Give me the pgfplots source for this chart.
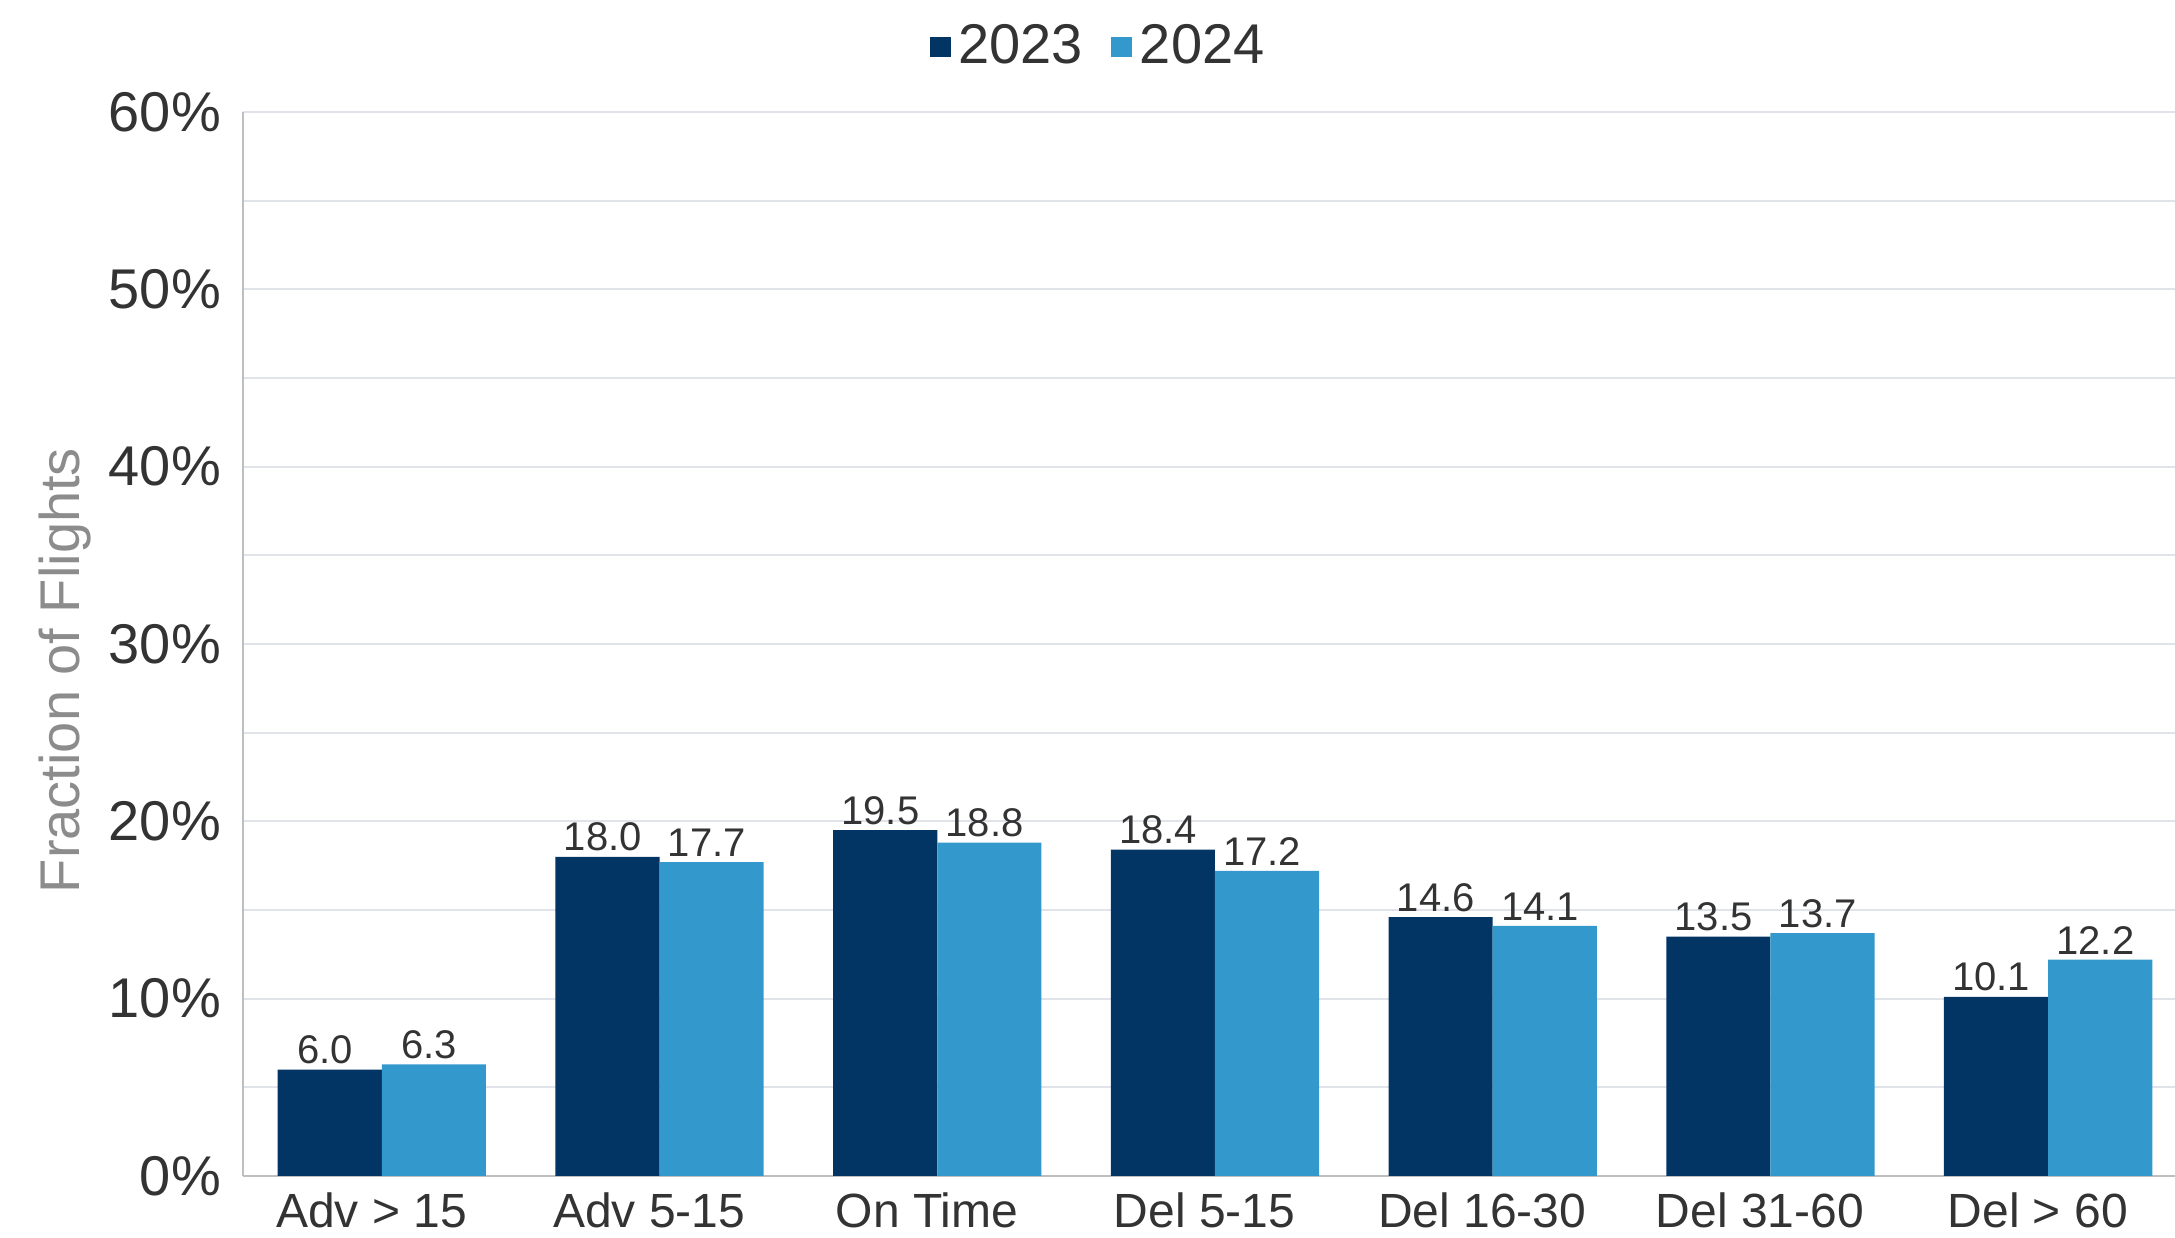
\documentclass[border=0pt]{standalone}
\usepackage{fontspec}
\setmainfont{Liberation Sans}
\usepackage{pgfplots}
\pgfplotsset{compat=1.18}
\definecolor{c23}{HTML}{023564}
\definecolor{c24}{HTML}{3399CC}
\definecolor{txt}{HTML}{333333}
\definecolor{gridc}{HTML}{E0E4EA}
\definecolor{axl}{HTML}{BFBFBF}
\definecolor{ylab}{HTML}{8C8C8C}
\begin{document}
\begin{tikzpicture}
\begin{axis}[
  at={(0,0)}, anchor=south west,
  width=486pt, height=266pt, scale only axis,
  xmin=-0.5, xmax=6.5, ymin=0, ymax=60,
  xtick={0,...,6},
  xticklabels={Adv > 15, Adv 5-15, On Time, Del 5-15, Del 16-30, Del 31-60, Del > 60},
  ytick={0,10,...,60}, minor ytick={5,15,...,55},
  ymajorgrids, yminorgrids,
  major grid style={draw=gridc, line width=0.5pt},
  minor grid style={draw=gridc, line width=0.5pt},
  axis x line*=bottom, axis y line*=left,
  axis line style={draw=axl, line width=0.6pt, -},
  major tick length=0pt, minor tick length=0pt,
  /pgf/number format/assume math mode=true,
  yticklabel={\pgfmathprintnumber{\tick}\%},
  yticklabel style={font=\fontsize{14}{16}\selectfont, text=txt, xshift=-2pt},
  xticklabel style={font=\fontsize{12}{14}\selectfont, text=txt, yshift=-0.6pt, xshift=-2.6pt},
  ylabel={Fraction of Flights},
  ylabel style={at={(axis description cs:-0.0918,0.475)}, anchor=center, font=\fontsize{14}{16}\selectfont, text=ylab},
  ybar, bar width=0.375,
  nodes near coords={\pgfmathprintnumber[fixed,fixed zerofill,precision=1]{\pgfplotspointmeta}},
  nodes near coords style={font=\fontsize{10}{12}\selectfont, text=txt, inner sep=1.2pt, xshift=-1.2pt},
  legend style={at={(axis description cs:0.4414,1.0611)}, anchor=center, draw=none, fill=none,
    legend columns=2, font=\fontsize{14}{16}\selectfont, text=txt, inner sep=0pt,
    /tikz/every even column/.append style={column sep=5pt},
    /tikz/every odd column/.append style={column sep=0pt}},
]
\addplot[fill=c23, draw=none, bar shift=-0.1875,
  legend image code/.code={\fill[c23] (0pt,-2.6pt) rectangle (5.2pt,2.6pt);}]
  coordinates {(0,6.0) (1,18.0) (2,19.5) (3,18.4) (4,14.6) (5,13.5) (6,10.1)};
\addplot[fill=c24, draw=none, bar shift=0.1875,
  legend image code/.code={\fill[c24] (0pt,-2.6pt) rectangle (5.2pt,2.6pt);}]
  coordinates {(0,6.3) (1,17.7) (2,18.8) (3,17.2) (4,14.1) (5,13.7) (6,12.2)};
\legend{2023,2024}
\end{axis}
\pgfresetboundingbox
\useasboundingbox (-60.75pt,-15.5pt) rectangle (483pt,294pt);
\end{tikzpicture}
\end{document}
